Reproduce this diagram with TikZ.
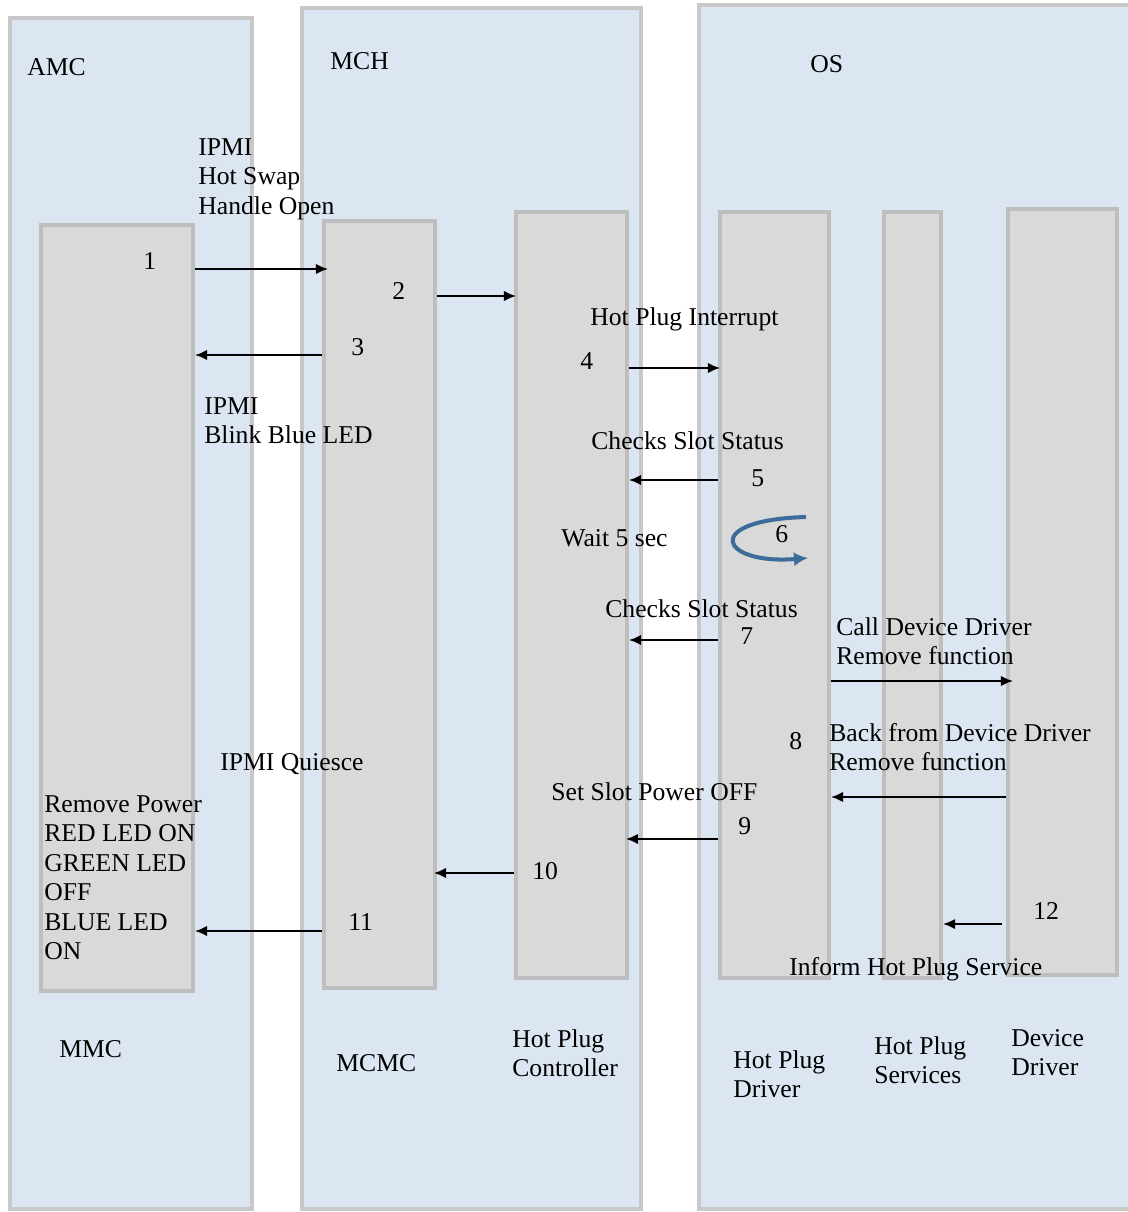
\documentclass[tikz,border=0pt]{standalone}
\usepackage{fontspec}
\setmainfont{Liberation Serif}
\usetikzlibrary{arrows.meta,fit}
\definecolor{panelblue}{RGB}{220,230,242}
\definecolor{panelline}{RGB}{200,200,200}
\definecolor{blockgray}{RGB}{217,217,217}
\definecolor{blockline}{RGB}{190,190,190}
\definecolor{loopblue}{RGB}{62,108,154}
\tikzset{panel/.style = {draw=panelline, fill=panelblue, line width=2.2pt, inner sep=0pt},
  block/.style = {draw=blockline, fill=blockgray, line width=2.2pt, inner sep=0pt},
  txt/.style = {anchor=north west, inner sep=0pt, align=left, font=\fontsize{14.6}{16.8}\selectfont},
  msg/.style = {-{Latex[length=7pt,width=6pt]}, line width=1.2pt}}

\begin{document}
\begin{tikzpicture}[x=0.02cm, y=-0.02cm]
  \useasboundingbox (0,0) rectangle (1127,1212);
  % the three panels
  \node[panel, fit={(10,18) (252,1209)}] (amc) {};
  \node[panel, fit={(302,8) (641,1209)}] (mch) {};
  \node[panel, fit={(699,5) (1150,1209)}] (os) {};
  % the six blocks
  \node[block, fit={(41,225) (193,991)}] (mmc) {};
  \node[block, fit={(324,221) (435,988)}] (mcmc) {};
  \node[block, fit={(516,212) (627,978)}] (hpc) {};
  \node[block, fit={(720,212) (829,978)}] (hpd) {};
  \node[block, fit={(884,212) (941,978)}] (hps) {};
  \node[block, fit={(1008,209) (1117,975)}] (dd) {};

  \node[txt] (amcname) at (27,58) {AMC};
  \node[txt] (mchname) at (330,52) {MCH};
  \node[txt] (osname) at (810,55) {OS};

  \node[txt] (mmcname) at (59,1040) {MMC};
  \node[txt] (mcmcname) at (336,1054) {MCMC};
  \node[txt] (hpcname) at (512,1029) {Hot Plug\\Controller};
  \node[txt] (hpdname) at (733,1050) {Hot Plug\\Driver};
  \node[txt] (hpsname) at (874,1036) {Hot Plug\\Services};
  \node[txt] (ddname) at (1011,1029) {Device\\Driver};

  % step labels
  \node[txt] (handle) at (198,138) {IPMI\\Hot Swap\\Handle Open};
  \node[txt] (blink) at (204,397) {IPMI\\Blink Blue LED};
  \node[txt] (irq) at (590,307) {Hot Plug Interrupt};
  \node[txt] (check) at (591,431) {Checks Slot Status};
  \node[txt] (wait) at (561,529) {Wait 5 sec};
  \node[txt] (recheck) at (605,599) {Checks Slot Status};
  \node[txt] (call) at (836,617) {Call Device Driver\\Remove function};
  \node[txt] (back) at (829,723) {Back from Device Driver\\Remove function};
  \node[txt] (quiesce) at (220,753) {IPMI Quiesce};
  \node[txt] (power) at (551,782) {Set Slot Power OFF};
  \node[txt] (leds) at (44,795) {Remove Power\\RED LED ON\\GREEN LED\\OFF\\BLUE LED\\ON};
  \node[txt] (inform) at (789,957) {Inform Hot Plug Service};

  \node[txt] (n1) at (143,252) {1};
  \node[txt] (n2) at (392,282) {2};
  \node[txt] (n3) at (351,338) {3};
  \node[txt] (n4) at (580,352) {4};
  \node[txt] (n5) at (751,469) {5};
  \node[txt] (n6) at (775,525) {6};
  \node[txt] (n7) at (740,627) {7};
  \node[txt] (n8) at (789,732) {8};
  \node[txt] (n9) at (738,817) {9};
  \node[txt] (n10) at (532,862) {10};
  \node[txt] (n11) at (348,913) {11};
  \node[txt] (n12) at (1033,902) {12};

  % rows of the messages
  \path (0,269) coordinate (r1) (0,296) coordinate (r2) (0,355) coordinate (r3)
        (0,368) coordinate (r4) (0,480) coordinate (r5) (0,640) coordinate (r7)
        (0,681) coordinate (rc) (0,797) coordinate (r8) (0,839) coordinate (r9)
        (0,873) coordinate (r10) (0,931) coordinate (r11) (0,924) coordinate (r12);
  \draw[msg] (mmc.east |- r1) -- ([xshift=0.12cm]mcmc.west |- r1);
  \draw[msg] (mcmc.east |- r2) -- ([xshift=0.04cm]hpc.west |- r2);
  \draw[msg] (mcmc.west |- r3) -- (mmc.east |- r3);
  \draw[msg] (hpc.east |- r4) -- ([xshift=0.04cm]hpd.west |- r4);
  \draw[msg] (hpd.west |- r5) -- (hpc.east |- r5);
  \draw[msg] (hpd.west |- r7) -- (hpc.east |- r7);
  \draw[msg] (hpd.east |- rc) -- ([xshift=0.14cm]dd.west |- rc);
  \draw[msg] (dd.west |- r8) -- (hpd.east |- r8);
  \draw[msg] (hpd.west |- r9) -- ([xshift=-0.06cm]hpc.east |- r9);
  \draw[msg] (hpc.west |- r10) -- ([xshift=-0.06cm]mcmc.east |- r10);
  \draw[msg] (mcmc.west |- r11) -- (mmc.east |- r11);
  \draw[msg] ([xshift=-0.08cm]dd.west |- r12) -- (hps.east |- r12);

  % the wait loop
  \coordinate (loopin) at (806,517);
  \coordinate (loopout) at (808,558);
  \draw[loopblue, line width=2.3pt, -{Latex[length=8pt,width=8pt]}]
    (loopin) .. controls (700,520) and (720,565) .. (loopout);
\end{tikzpicture}
\end{document}
